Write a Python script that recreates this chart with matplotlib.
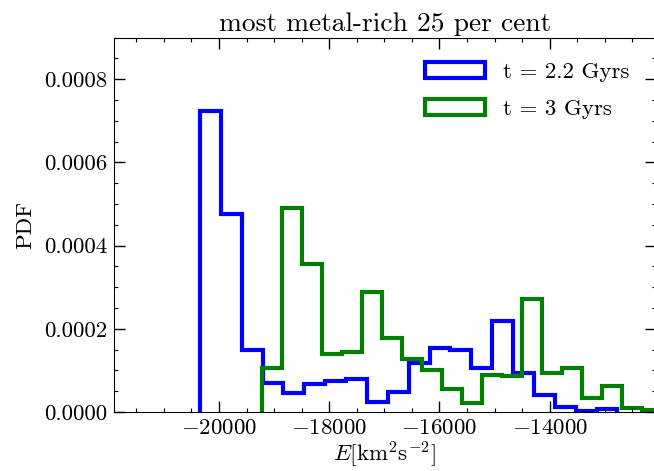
import numpy as np
import matplotlib
matplotlib.use("Agg")
import matplotlib.pyplot as plt
from matplotlib.patches import Patch
from matplotlib.ticker import MultipleLocator, FuncFormatter

plt.rcParams['font.family'] = ['cmr10', 'DejaVu Serif']
plt.rcParams['mathtext.fontset'] = 'cm'
plt.rcParams['axes.formatter.use_mathtext'] = True
plt.rcParams['font.size'] = 16.5

# histogram heights (PDF), 20 bins each
blue_range = (-20345, -12770)
blue_pdf = [0.000724, 0.000475, 0.000148, 0.000069, 0.0000465,
            0.0000675, 0.0000747, 0.0000795, 0.0000248, 0.000049,
            0.000117, 0.000153, 0.000149, 0.000105, 0.000218,
            0.000093, 0.000041, 0.0000113, 0.000002, 0.0000065]

green_range = (-19224, -11970)
green_pdf = [0.000105, 0.000491, 0.000357, 0.00014, 0.000145,
             0.000288, 0.000178, 0.000127, 0.000101, 0.0000547,
             0.0000224, 0.0000892, 0.0000875, 0.000272, 0.0000933,
             0.000105, 0.000033, 0.0000627, 0.0000104, 0.0000048]

labels = ['t = 2.2 Gyrs', 't = 3 Gyrs']
colors = ['blue', 'green']


def main():
    fig = plt.figure(figsize=(6.54, 4.71), dpi=100)
    ax = fig.add_axes([0.1743, 0.1253, 0.828, 0.7947])

    blue_edges = np.linspace(blue_range[0], blue_range[1], len(blue_pdf) + 1)
    green_edges = np.linspace(green_range[0], green_range[1], len(green_pdf) + 1)
    ax.stairs(blue_pdf, blue_edges, color=colors[0], lw=3)
    ax.stairs(green_pdf, green_edges, color=colors[1], lw=3)

    ax.set_xlim(-21905, -12080)
    ax.set_ylim(0, 0.0009)
    ax.xaxis.set_major_locator(MultipleLocator(2000))
    ax.xaxis.set_minor_locator(MultipleLocator(500))
    ax.yaxis.set_major_locator(MultipleLocator(0.0002))
    ax.yaxis.set_minor_locator(MultipleLocator(0.00005))
    ax.yaxis.set_major_formatter(FuncFormatter(lambda v, p: '%.4f' % v))
    ax.tick_params(which='both', direction='in', top=True, right=True)
    ax.tick_params(which='major', length=8, width=1, pad=5)
    ax.tick_params(which='minor', length=3, width=0.8)

    ax.set_xlabel(r'$E[\mathrm{km^2s^{-2}}]$', labelpad=1)
    ax.set_ylabel('PDF', labelpad=6)
    ax.set_title('most metal-rich 25 per cent', pad=5)

    handles = [Patch(facecolor='white', edgecolor=c, lw=3) for c in colors]
    ax.legend(handles, labels, loc='upper right', frameon=False,
              handlelength=2.6, handleheight=0.7, handletextpad=0.8,
              labelspacing=0.75, borderaxespad=0.5, bbox_to_anchor=(0.99, 0.99))

    fig.savefig('out.png', dpi=100)


if __name__ == '__main__':
    main()
